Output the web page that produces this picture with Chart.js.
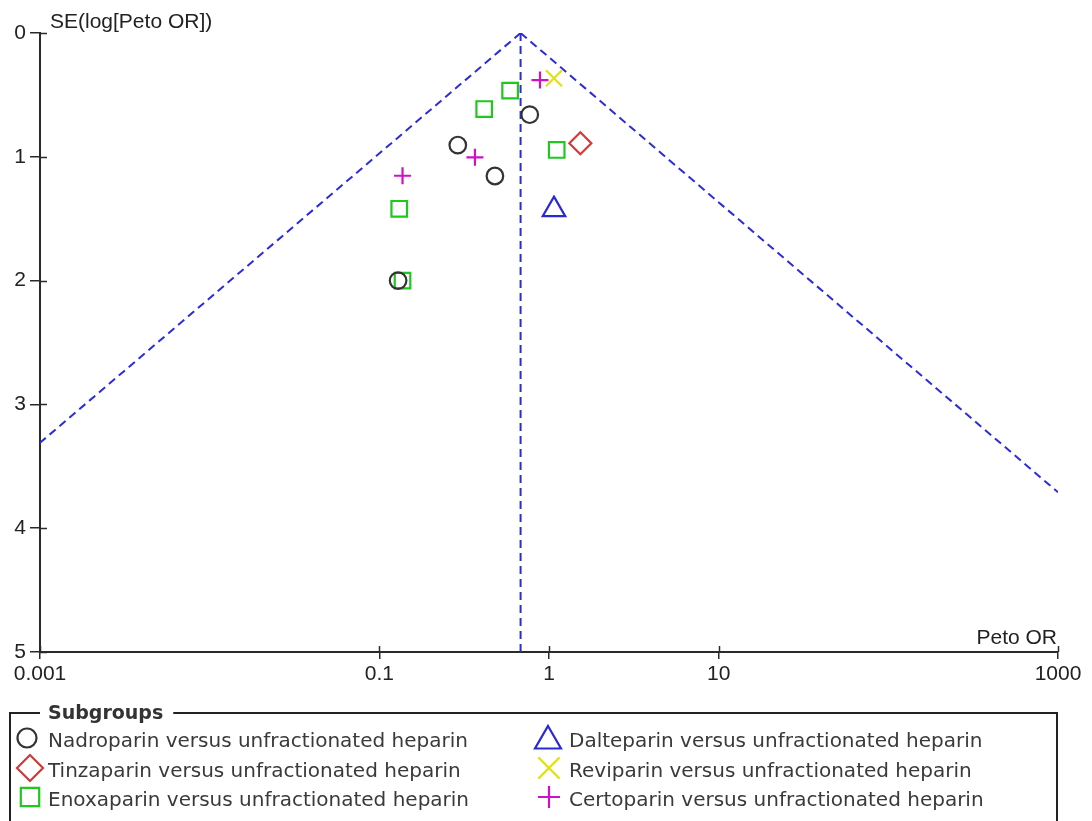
<!DOCTYPE html>
<html>
<head>
<meta charset="utf-8">
<script src="https://cdn.jsdelivr.net/npm/chart.js@4/dist/chart.umd.min.js"></script>
<style>
html,body{margin:0;padding:0;background:#fff;}
canvas{display:block;}
</style>
</head>
<body>
<canvas id="c" width="1092" height="821"></canvas>
<script>
// ---- data ----
const xTickValues = [0.001, 0.1, 1, 10, 1000];
const yTickValues = [0, 1, 2, 3, 4, 5];
const xAxisTitle = 'Peto OR';
const yAxisTitle = 'SE(log[Peto OR])';
const legendTitle = 'Subgroups';

const pooledOR = 0.68;
const funnelLeftEnd = {x: 0.001, y: 3.31};
const funnelRightEnd = {x: 1000, y: 3.71};

const nadroparinOR = [0.77, 0.29, 0.48, 0.129];
const nadroparinSE = [0.66, 0.905, 1.155, 2.0];
const tinzaparinOR = [1.53];
const tinzaparinSE = [0.89];
const enoxaparinOR = [0.59, 0.415, 1.11, 0.131, 0.137];
const enoxaparinSE = [0.466, 0.614, 0.945, 1.42, 2.0];
const dalteparinOR = [1.07];
const dalteparinSE = [1.427];
const reviparinOR = [1.07];
const reviparinSE = [0.366];
const certoparinOR = [0.885, 0.366, 0.137];
const certoparinSE = [0.38, 1.004, 1.153];

const seriesNames = [
  'Nadroparin versus unfractionated heparin',
  'Tinzaparin versus unfractionated heparin',
  'Enoxaparin versus unfractionated heparin',
  'Dalteparin versus unfractionated heparin',
  'Reviparin versus unfractionated heparin',
  'Certoparin versus unfractionated heparin'
];

// ---- styles ----
const C_AXIS = '#2a2a2a';
const C_LINE = '#2b2bdc';
const styles = [
  {pointStyle:'circle',   color:'#333333', radius:8.3, lr:9.5},
  {pointStyle:'rectRot',  color:'#d03a3a', radius:11,  lr:13},
  {pointStyle:'rect',     color:'#1ec81e', radius:11,  lr:13},
  {pointStyle:'triangle', color:'#2a2ad2', radius:13,  lr:15},
  {pointStyle:'crossRot', color:'#e2e210', radius:11.3,lr:15},
  {pointStyle:'cross',    color:'#d010c8', radius:8.5, lr:11}
];
const seriesOR = [nadroparinOR, tinzaparinOR, enoxaparinOR, dalteparinOR, reviparinOR, certoparinOR];
const seriesSE = [nadroparinSE, tinzaparinSE, enoxaparinSE, dalteparinSE, reviparinSE, certoparinSE];

const pointDatasets = seriesNames.map((name, i) => ({
  type: 'scatter',
  label: name,
  data: seriesOR[i].map((v, k) => ({x: v, y: seriesSE[i][k]})),
  pointStyle: styles[i].pointStyle,
  pointRadius: styles[i].radius,
  pointHoverRadius: styles[i].radius,
  borderColor: styles[i].color,
  backgroundColor: 'rgba(0,0,0,0)',
  pointBorderWidth: 2.2,
  showLine: false
}));

const lineDatasets = [
  {data: [{x: pooledOR, y: 0}, funnelLeftEnd]},
  {data: [{x: pooledOR, y: 0}, funnelRightEnd]},
  {data: [{x: pooledOR, y: 0}, {x: pooledOR, y: 5}]}
].map(d => ({
  type: 'line',
  label: '',
  data: d.data,
  borderColor: C_LINE,
  borderWidth: 2,
  borderDash: [8, 5],
  pointRadius: 0,
  fill: false,
  tension: 0
}));

const TICK_FONT = {family: '"Liberation Sans", Arial, sans-serif', size: 21};
const TITLE_FONT = '21px "Liberation Sans", Arial, sans-serif';
const LEG_FONT = '20px "DejaVu Sans", sans-serif';
const LEG_BOLD = 'bold 19px "DejaVu Sans", sans-serif';

function drawMarker(ctx, style, radius, x, y) {
  ctx.save();
  ctx.strokeStyle = style.color;
  ctx.fillStyle = 'rgba(0,0,0,0)';
  ctx.lineWidth = 2.2;
  if (Chart.helpers && Chart.helpers.drawPoint) {
    Chart.helpers.drawPoint(ctx, {pointStyle: style.pointStyle, radius: radius, rotation: 0, borderWidth: 2.2}, x, y);
  }
  ctx.restore();
}

const decorPlugin = {
  id: 'decor',
  afterDraw(chart) {
    const ctx = chart.ctx;
    const xs = chart.scales.x, ys = chart.scales.y;
    const area = chart.chartArea;
    ctx.save();
    // inner parts of tick marks
    ctx.strokeStyle = C_AXIS;
    ctx.lineWidth = 1.5;
    xTickValues.forEach(v => {
      const px = Math.round(xs.getPixelForValue(v)) + 0.5;
      ctx.beginPath(); ctx.moveTo(px, area.bottom); ctx.lineTo(px, area.bottom - 6); ctx.stroke();
    });
    yTickValues.forEach(v => {
      const py = Math.round(ys.getPixelForValue(v)) + 0.5;
      ctx.beginPath(); ctx.moveTo(area.left, py); ctx.lineTo(area.left + 7, py); ctx.stroke();
    });
    // axis titles
    ctx.fillStyle = '#222';
    ctx.font = TITLE_FONT;
    ctx.textBaseline = 'alphabetic';
    ctx.textAlign = 'left';
    ctx.fillText(yAxisTitle, 50, 28);
    ctx.textAlign = 'right';
    ctx.fillText(xAxisTitle, 1057, 644);

    // legend box
    ctx.strokeStyle = '#222';
    ctx.lineWidth = 2;
    ctx.font = LEG_BOLD;
    ctx.textAlign = 'left';
    const titleW = ctx.measureText(legendTitle).width;
    const top = 713, left = 10, right = 1057, bottom = 830;
    ctx.beginPath();
    ctx.moveTo(40, top); ctx.lineTo(left, top); ctx.lineTo(left, bottom);
    ctx.moveTo(48 + titleW + 10, top); ctx.lineTo(right, top); ctx.lineTo(right, bottom);
    ctx.stroke();
    ctx.fillStyle = '#333';
    ctx.textBaseline = 'middle';
    ctx.fillText(legendTitle, 48, top + 1);

    ctx.font = LEG_FONT;
    ctx.textBaseline = 'alphabetic';
    const rowBase = [747, 777, 806];
    const rowMid = [738, 768, 797];
    const colMarkX = [[27, 30, 30], [548, 549, 549]];
    const colTextX = [48, 569];
    seriesNames.forEach((name, i) => {
      const col = Math.floor(i / 3), row = i % 3;
      drawMarker(ctx, styles[i], styles[i].lr, colMarkX[col][row], rowMid[row] + (styles[i].pointStyle === 'triangle' ? 3 : 0));
      ctx.fillStyle = '#3a3a3a';
      ctx.fillText(name, colTextX[col], rowBase[row]);
    });
    ctx.restore();
  }
};

Chart.defaults.font.family = '"Liberation Sans", Arial, sans-serif';

new Chart(document.getElementById('c'), {
  type: 'scatter',
  data: {datasets: [...pointDatasets, ...lineDatasets]},
  options: {
    responsive: false,
    animation: false,
    devicePixelRatio: 1,
    layout: {padding: {top: 33, right: 34, left: 0, bottom: 0}},
    plugins: {legend: {display: false}, tooltip: {enabled: false}, title: {display: false}},
    scales: {
      x: {
        type: 'logarithmic',
        min: 0.001,
        max: 1000,
        afterBuildTicks: (scale) => { scale.ticks = xTickValues.map(v => ({value: v})); },
        afterFit: (scale) => { scale.height = 169; },
        ticks: {
          callback: (v) => String(v),
          font: TICK_FONT,
          color: '#222',
          padding: 3,
          maxRotation: 0,
          autoSkip: false
        },
        grid: {display: true, drawOnChartArea: false, drawTicks: true, tickLength: 7, color: C_AXIS, lineWidth: 1.5},
        border: {display: true, color: C_AXIS, width: 2}
      },
      y: {
        type: 'linear',
        min: 0,
        max: 5,
        reverse: true,
        afterBuildTicks: (scale) => { scale.ticks = yTickValues.map(v => ({value: v})); },
        afterFit: (scale) => { scale.width = 40; },
        ticks: {
          callback: (v) => String(v),
          font: TICK_FONT,
          color: '#222',
          padding: 4,
          autoSkip: false
        },
        grid: {display: true, drawOnChartArea: false, drawTicks: true, tickLength: 10, color: C_AXIS, lineWidth: 1.5},
        border: {display: true, color: C_AXIS, width: 2}
      }
    }
  },
  plugins: [decorPlugin]
});
</script>
</body>
</html>
